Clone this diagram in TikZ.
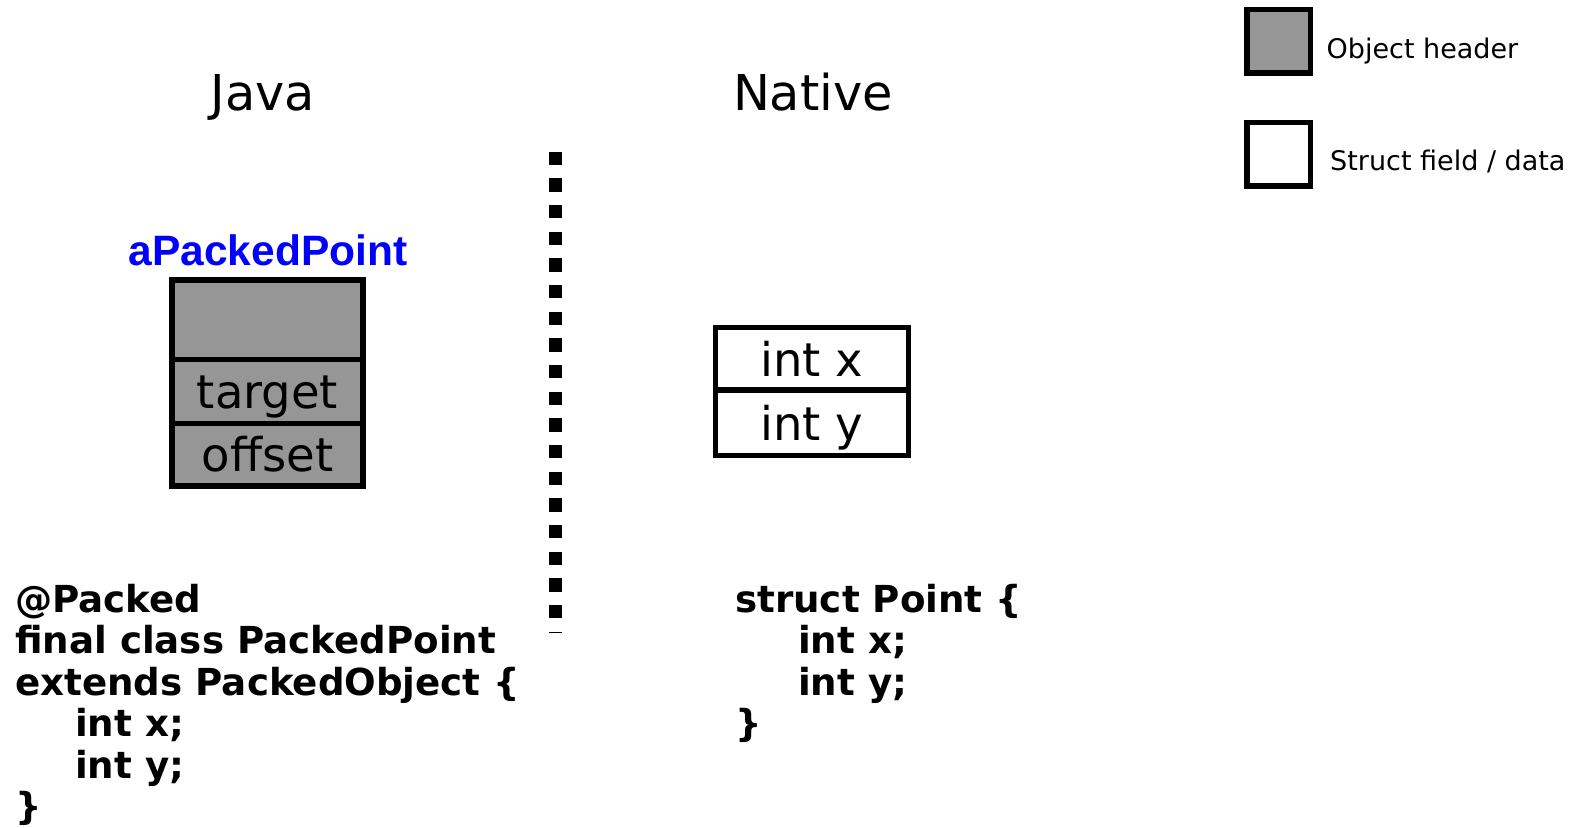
\documentclass[tikz,border=0pt]{standalone}
\usepackage{fontspec}
\setmainfont{DejaVu Sans}
\newfontfamily\labelfont{Liberation Sans}
\begin{document}
\begin{tikzpicture}[x=1pt,y=-1pt,
  cell/.style={draw=black, line width=5.5pt, rectangle, inner sep=0pt, outer sep=0pt, minimum width=#1},
  hdrfill/.style={fill=hdrgray},
  fieldtxt/.style={inner sep=0pt, anchor=base, font=\fontsize{46.5}{50}\selectfont},
  title/.style={inner sep=0pt, anchor=base, font=\fontsize{49.4}{52}\selectfont},
  legtxt/.style={inner sep=0pt, anchor=base west, font=\fontsize{27}{30}\selectfont},
  code/.style={inner sep=0pt, anchor=base west, align=left, font=\fontsize{37.2}{41.5}\selectfont\bfseries}
]
\definecolor{hdrgray}{RGB}{150,150,150}
\useasboundingbox (0,0) rectangle (1589,827);

% column titles
\node[title] (javatitle) at (263,110) {Java};
\node[title] (nativetitle) at (813,110) {Native};

% separator between the two worlds
\coordinate (septop) at (555.7,151.7);
\coordinate (sepbot) at (555.7,632.5);
\draw[line width=13.3pt, dash pattern=on 13.33pt off 13.33pt] (septop) -- (sepbot);

% Java object layout
\node[inner sep=0pt, anchor=base, text=blue, font=\fontsize{42.5}{46}\labelfont\bfseries] (objname) at (268,265.5) {aPackedPoint};
\node[cell=191pt, hdrfill, minimum height=79.5pt] (hdr) at (267.5,319.75) {};
\node[cell=191pt, hdrfill, minimum height=63.8pt] (tgt) at (267.5,391.4) {};
\node[cell=191pt, hdrfill, minimum height=62.7pt] (off) at (267.5,454.65) {};
\node[fieldtxt] (tgttxt) at (267.5,408) {target};
\node[fieldtxt] (offtxt) at (267.5,471.7) {offset};

% native struct layout
\node[cell=193pt, fill=white, minimum height=62.5pt] (fx) at (812,358.75) {};
\node[cell=193pt, fill=white, minimum height=65.5pt] (fy) at (812,422.75) {};
\node[fieldtxt] (fxtxt) at (812,376) {int x};
\node[fieldtxt] (fytxt) at (812,440) {int y};

% legend
\node[cell=63.5pt, hdrfill, minimum height=63.5pt] (leghdr) at (1278.75,41.25) {};
\node[cell=63.5pt, fill=white, minimum height=63.5pt] (legfld) at (1278.75,154) {};
\node[legtxt] (leghdrtxt) at (1326.5,58) {Object header};
\node[legtxt] (legfldtxt) at (1330,170) {Struct field / data};

% source code (a multi-line node sits on the baseline of its last line)
\node[code] (javacode) at (15,819.5) {@Packed\\final class PackedPoint\\extends PackedObject \{\\\hspace*{60pt}int x;\\\hspace*{60pt}int y;\\\}};
\node[code] (nativecode) at (735,736.5) {struct Point \{\\\hspace*{63pt}int x;\\\hspace*{63pt}int y;\\\}};
\end{tikzpicture}
\end{document}
